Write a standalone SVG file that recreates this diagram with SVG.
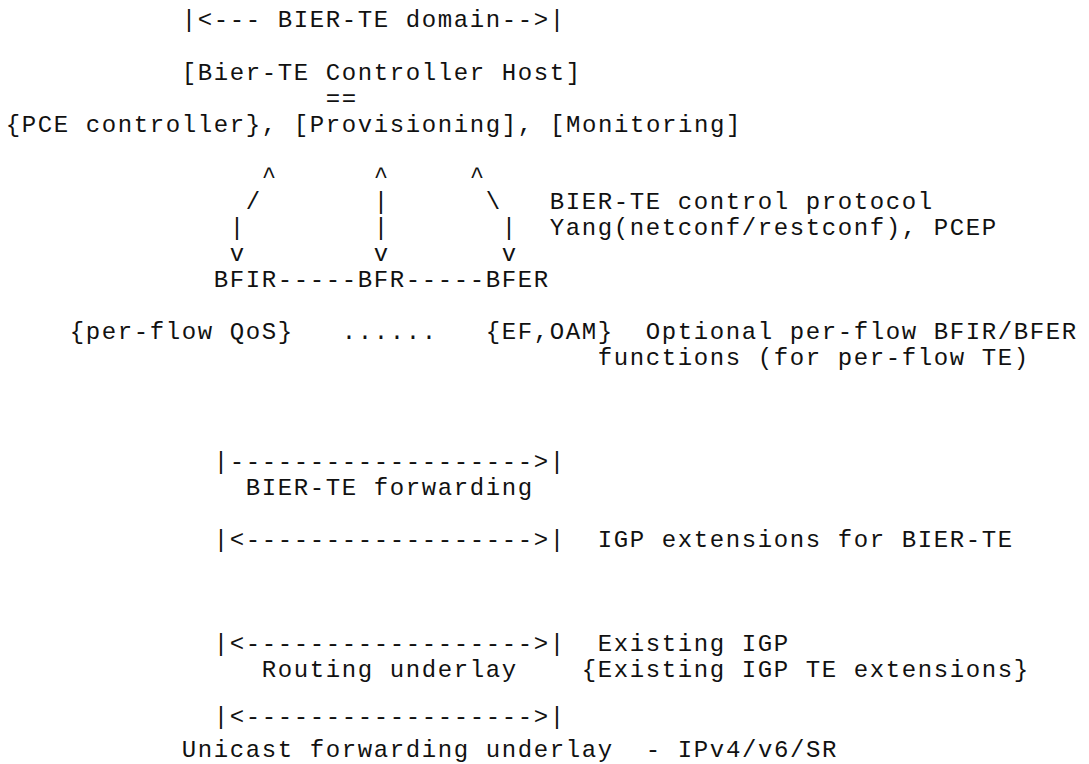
<svg xmlns="http://www.w3.org/2000/svg" width="1089" height="764" viewBox="0 0 1089 764">
  <style>
    text { font-family: "Liberation Mono", "Courier New", monospace; font-size: 24px; letter-spacing: 1.6px; fill: #111; white-space: pre; }
  </style>
  <rect width="1089" height="764" fill="#fff"/>

  <!-- monospace grid: 16px cells, column c at x = 5.8 + 16c -->
  <g id="domain-span">
    <text x="181.8" y="27" xml:space="preserve">|&lt;--- BIER-TE domain--&gt;|</text>
  </g>

  <g id="controller-host">
    <text x="181.8" y="80">[Bier-TE Controller Host]</text>
    <text x="325.8" y="105.5">==</text>
    <text x="5.8" y="131.5">{PCE controller}, [Provisioning], [Monitoring]</text>
  </g>

  <g id="connectors">
    <!-- control protocol links between controller and routers -->
    <text x="261.8" y="182.5">^</text>
    <text x="373.8" y="182.5">^</text>
    <text x="469.8" y="182.5">^</text>
    <text x="245.8" y="208.5">/</text>
    <text x="373.8" y="208.5">|</text>
    <text x="485.8" y="208.5">\</text>
    <text x="229.8" y="234.5">|</text>
    <text x="373.8" y="234.5">|</text>
    <text x="501.8" y="234.5">|</text>
    <text x="229.8" y="260.5">v</text>
    <text x="373.8" y="260.5">v</text>
    <text x="501.8" y="260.5">v</text>
    <!-- BIER-TE links -->
    <text x="277.8" y="286.5">-----</text>
    <text x="405.8" y="286.5">-----</text>
  </g>

  <g id="control-protocol">
    <text x="549.8" y="208.5">BIER-TE control protocol</text>
    <text x="549.8" y="234.5">Yang(netconf/restconf), PCEP</text>
  </g>

  <g id="bfir"><text x="213.8" y="286.5">BFIR</text></g>
  <g id="bfr"><text x="357.8" y="286.5">BFR</text></g>
  <g id="bfer"><text x="485.8" y="286.5">BFER</text></g>

  <g id="per-flow-functions">
    <text x="69.8" y="338.5">{per-flow QoS}</text>
    <text x="341.8" y="338.5">......</text>
    <text x="485.8" y="338.5">{EF,OAM}</text>
    <text x="645.8" y="338.5">Optional per-flow BFIR/BFER</text>
    <text x="597.8" y="364.5">functions (for per-flow TE)</text>
  </g>

  <g id="layer-forwarding">
    <text x="213.8" y="468.7">|-------------------&gt;|</text>
    <text x="245.8" y="494.8">BIER-TE forwarding</text>
  </g>

  <g id="layer-igp-extensions">
    <text x="213.8" y="546.9">|&lt;------------------&gt;|</text>
    <text x="597.8" y="546.9">IGP extensions for BIER-TE</text>
  </g>

  <g id="layer-routing">
    <text x="213.8" y="651.2">|&lt;------------------&gt;|</text>
    <text x="597.8" y="651.2">Existing IGP</text>
    <text x="261.8" y="677.3">Routing underlay</text>
    <text x="581.8" y="677.3">{Existing IGP TE extensions}</text>
  </g>

  <g id="layer-unicast">
    <text x="213.8" y="724">|&lt;------------------&gt;|</text>
    <text x="181.8" y="757">Unicast forwarding underlay  - IPv4/v6/SR</text>
  </g>
</svg>
